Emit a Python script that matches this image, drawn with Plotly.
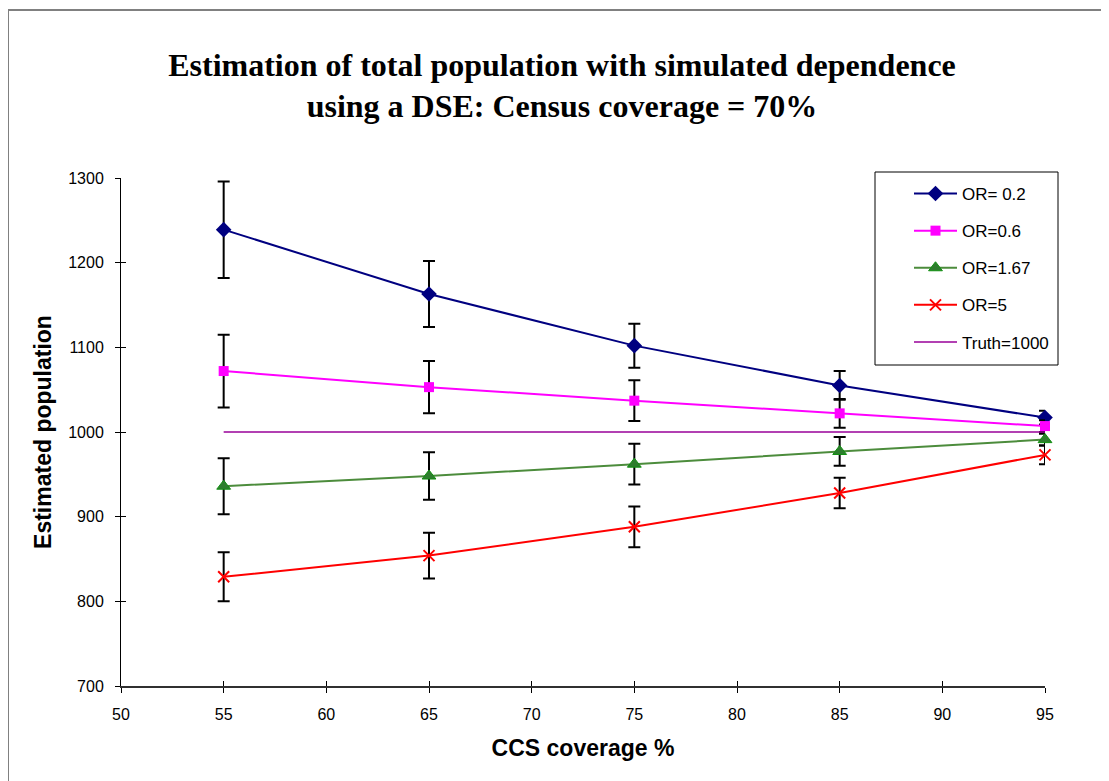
import plotly.graph_objects as go

coverage = [55, 65, 75, 85, 95]
or_02 = [1239, 1163, 1102, 1055, 1017]
or_02_err = [57, 39, 26, 17, 8]
or_06 = [1072, 1053, 1037, 1022, 1007]
or_06_err = [43, 31, 24, 17, 7]
or_167 = [936, 948, 962, 977, 991]
or_167_err = [33, 28, 24, 17, 7]
or_5 = [829, 854, 888, 928, 973]
or_5_err = [29, 27, 24, 18, 11]
truth = [1000, 1000, 1000, 1000, 1000]

OFF = 8  # default page body margin
FW, FH = 1109 - OFF, 781 - OFF
# plot area in page pixels
PL, PR, PT, PB = 121, 1045, 178, 686
L = PL - OFF
T = PT - OFF
pw, ph = PR - PL, PB - PT
R = FW - L - pw
B = FH - T - ph


def px(x):
    return (x - PL) / pw


def py(y):
    return (PB - y) / ph


fig = go.Figure()


def err(vals):
    return dict(type="data", array=vals, visible=True, color="black", thickness=2, width=6)


fig.add_trace(go.Scatter(x=coverage, y=or_02, name="OR= 0.2", mode="lines+markers",
                         line=dict(color="#000080", width=2),
                         marker=dict(symbol="diamond", size=12, color="#000080"),
                         error_y=err(or_02_err), legendgroup="a", cliponaxis=False))
fig.add_trace(go.Scatter(x=coverage, y=or_06, name="OR=0.6", mode="lines+markers",
                         line=dict(color="#FF00FF", width=2),
                         marker=dict(symbol="square", size=10, color="#FF00FF"),
                         error_y=err(or_06_err), legendgroup="b", cliponaxis=False))
fig.add_trace(go.Scatter(x=coverage, y=or_167, name="OR=1.67", mode="lines+markers",
                         line=dict(color="#4C8C3C", width=2),
                         marker=dict(symbol="triangle-up", size=12, color="#2E7D2E",
                                     line=dict(color="#109010", width=1)),
                         error_y=err(or_167_err), legendgroup="c", cliponaxis=False))
fig.add_trace(go.Scatter(x=coverage, y=or_5, name="OR=5", mode="lines+markers",
                         line=dict(color="#FF0000", width=2),
                         marker=dict(symbol="x-thin", size=11, color="#FF0000",
                                     line=dict(color="#FF0000", width=2)),
                         error_y=err(or_5_err), legendgroup="d", cliponaxis=False))
fig.add_trace(go.Scatter(x=coverage, y=truth, name="Truth=1000", mode="lines",
                         line=dict(color="#990099", width=1.5), legendgroup="e", cliponaxis=False))

# helper trace for inner-tick overlay axes
fig.add_trace(go.Scatter(x=[None], y=[None], xaxis="x2", yaxis="y2", showlegend=False, hoverinfo="skip"))

axis_font = dict(family="Liberation Sans, Arial", size=16, color="black")
title_font = dict(family="Liberation Sans, Arial", size=23, color="black")

fig.update_layout(
    width=FW, height=FH,
    margin=dict(l=L, r=R, t=T, b=B),
    paper_bgcolor="white", plot_bgcolor="white",
    title=dict(text="Estimation of total population with simulated dependence<br>using a DSE: Census coverage = 70%",
               font=dict(family="Liberation Serif, Times New Roman", size=32, color="black", weight="bold"),
               x=(562 - OFF) / FW, xanchor="center", y=1 - 67.5 / FH, yanchor="middle", yref="container"),
    xaxis=dict(range=[50, 95], dtick=5, tick0=50, showgrid=False, zeroline=False,
               showline=True, linecolor="#303030", linewidth=2,
               ticks="outside", ticklen=5, tickcolor="black", tickwidth=1,
               tickfont=axis_font, ticklabelstandoff=8,
               title=dict(text="<b>CCS coverage %</b>", font=title_font, standoff=18)),
    yaxis=dict(range=[700, 1300], dtick=100, tick0=700, showgrid=False, zeroline=False,
               showline=True, linecolor="black", linewidth=1,
               ticks="outside", ticklen=5, tickcolor="black", tickwidth=1,
               tickfont=axis_font, ticklabelstandoff=8,
               title=dict(text="<b>Estimated population</b>", font=title_font, standoff=10)),
    xaxis2=dict(range=[50, 95], dtick=5, tick0=50, overlaying="x", showgrid=False, zeroline=False,
                showline=False, ticks="inside", ticklen=5, tickcolor="black", tickwidth=1,
                showticklabels=False, side="bottom", anchor="y2"),
    yaxis2=dict(range=[700, 1300], dtick=100, tick0=700, overlaying="y", showgrid=False, zeroline=False,
                showline=False, ticks="inside", ticklen=5, tickcolor="black", tickwidth=1,
                showticklabels=False, side="left", anchor="x2"),
    legend=dict(x=px(909), y=py(176), xanchor="left", yanchor="top",
                borderwidth=0, bgcolor="rgba(0,0,0,0)",
                font=dict(family="Liberation Sans, Arial", size=17, color="black"),
                traceorder="grouped", tracegroupgap=12, itemwidth=43),
    shapes=[
        dict(type="rect", xref="paper", yref="paper",
             x0=px(8), x1=px(1140), y0=py(800), y1=py(10),
             line=dict(color="#808080", width=2), layer="below"),
        dict(type="rect", xref="paper", yref="paper",
             x0=px(875), x1=px(1058), y0=py(365), y1=py(172),
             line=dict(color="black", width=1), fillcolor="white", layer="below"),
    ],
    showlegend=True,
)

fig.write_html("out.html")
